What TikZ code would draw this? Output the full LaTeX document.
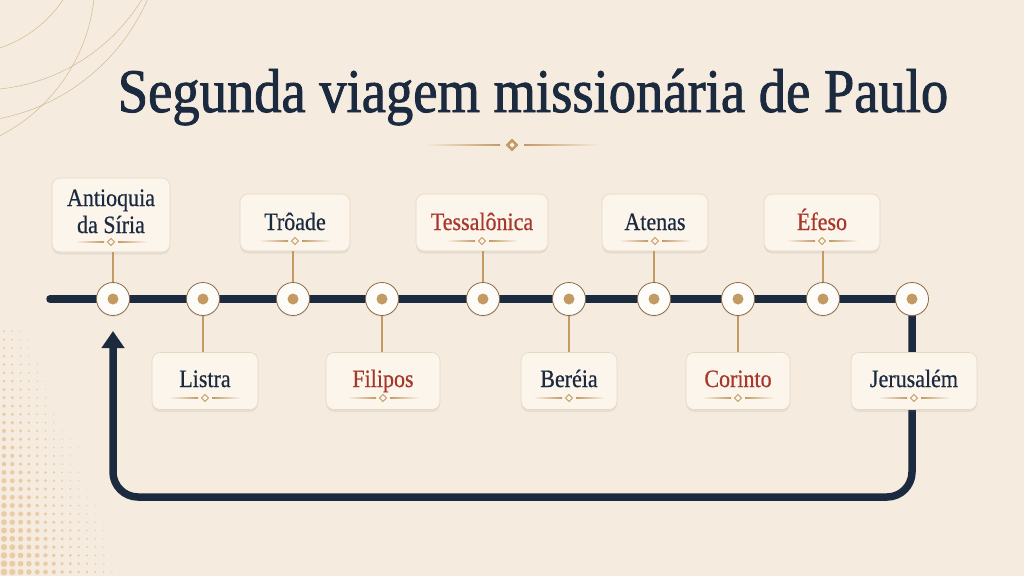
\documentclass[tikz,border=0pt]{standalone}
\usepackage{fontspec}
\setmainfont{Liberation Serif}[FakeStretch=0.88]
\newfontfamily\titlefont{Liberation Serif}[FakeStretch=0.88, FakeBold=1.4]
\newfontfamily\cardfont{Liberation Serif}[FakeStretch=0.88, FakeBold=0.6]
\usetikzlibrary{arrows.meta, shadows, calc}
\definecolor{paper}{HTML}{F5ECDF}
\definecolor{card}{HTML}{FBF5EB}
\definecolor{ink}{HTML}{1B2A3F}
\definecolor{rust}{HTML}{A8372B}
\definecolor{gold}{HTML}{C49A63}
\definecolor{rim}{HTML}{8C6C48}
\definecolor{peach}{HTML}{EACBA8}
\tikzset{
    placecard/.style={draw=gold!40, fill=card, line width=0.6pt, rounded corners=8pt,
        minimum height=57pt, inner sep=0pt,
        drop shadow={opacity=0.12, shadow xshift=0pt, shadow yshift=-2.5pt}},
    placename/.style={font=\cardfont\fontsize{25}{27}\selectfont, inner sep=0pt, align=center},
    stop/.style={circle, draw=rim, line width=0.8pt, fill=white!70!card, minimum size=33pt, inner sep=0pt,
        drop shadow={opacity=0.10, shadow xshift=0pt, shadow yshift=-1.5pt}},
    stem/.style={draw=gold, line width=1.3pt},
    route/.style={draw=ink, line width=7.5pt},
    ornament/.pic={
        \shade[left color=card, right color=gold] (-36,-0.6) rectangle (-7,0.6);
        \shade[left color=gold, right color=card] (7,-0.6) rectangle (36,0.6);
        \draw[gold, fill=card, line width=1pt] (0,-3.5) -- (3.5,0) -- (0,3.5) -- (-3.5,0) -- cycle;
    }
}

\begin{document}
\begin{tikzpicture}[x=1pt, y=-1pt]
    \fill[paper] (0,0) rectangle (1024,576);
    \useasboundingbox (0,0) rectangle (1024,576);

    % corner decoration
    \begin{scope}
        \clip (0,0) rectangle (1024,576);
        \draw[gold!70, line width=0.5pt] (-40,-70) circle (124.5);
        \draw[gold!70, line width=0.5pt] (-80,-20) circle (175);
        \draw[gold!70, line width=0.5pt] (-20,-100) circle (190);
        \draw[gold!70, line width=0.5pt] (-40,-82) circle (204.4);
        \foreach \i in {0,...,14}
            \foreach \j in {0,...,29} {
                \pgfmathsetmacro\r{max(0,3.4-0.21*\i-0.08*\j)}
                \fill[peach] (4+8.3*\i, 572-8.3*\j) circle[radius=\r pt];
            }
    \end{scope}

    % title
    \node[font=\titlefont\fontsize{62}{70}\selectfont, text=ink, anchor=base, inner sep=0pt] (title) at (533,112)
        {Segunda viagem missionária de Paulo};
    \shade[left color=paper, right color=gold] (425,144.3) rectangle (500,145.7);
    \shade[left color=gold, right color=paper] (524,144.3) rectangle (600,145.7);
    \draw[gold, fill=gold] (512,139) -- (518,145) -- (512,151) -- (506,145) -- cycle;
    \fill[card] (512,142.5) -- (514.5,145) -- (512,147.5) -- (509.5,145) -- cycle;

    % route
    \foreach \n/\x in {1/113, 2/203, 3/293, 4/382, 5/483, 6/569, 7/654, 8/738, 9/823, 10/912}
        \coordinate (p\n) at (\x,299);
    \coordinate (start) at (50,299);
    \coordinate (tip) at (113,331);
    \draw[route, line cap=round] (start) -- (p10);
    \draw[route, rounded corners=25pt, -{Triangle[length=17pt, width=22pt]}]
        (p10) -- (912,497) -- (113,497) -- (tip);

    % stations
    \foreach \n in {1,...,10} {
        \node[stop] (s\n) at (p\n) {};
        \fill[gold] (s\n) circle (5.5);
    }

    % cards above the line
    \node[placecard, minimum width=118pt, minimum height=74pt] (c1) at (111,215) {};
    \node[placename, text=ink, anchor=base] at (111,206) {Antioquia};
    \node[placename, text=ink, anchor=base] at (111,233) {da Síria};
    \pic at (111,242) {ornament};
    \draw[stem] (s1.north) -- (s1.north |- c1.south);
    \foreach \n/\x/\w/\txt/\col in {3/295/110/Trôade/ink, 5/482/132/Tessalônica/rust,
            7/655/106/Atenas/ink, 9/822/116/Éfeso/rust} {
        \node[placecard, minimum width=\w pt] (c\n) at (\x,222.5) {};
        \node[placename, text=\col, anchor=base] at (\x,230) {\txt};
        \pic at (\x,241) {ornament};
        \draw[stem] (s\n.north) -- (s\n.north |- c\n.south);
    }

    % cards below the line
    \foreach \n/\x/\w/\txt/\col in {2/205/106/Listra/ink, 4/383/114/Filipos/rust,
            6/569/96/Beréia/ink, 8/738/104/Corinto/rust, 10/914/126/Jerusalém/ink} {
        \node[placecard, minimum width=\w pt] (c\n) at (\x,381) {};
        \node[placename, text=\col, anchor=base] at (\x,387) {\txt};
        \pic at (\x,398) {ornament};
        \ifnum\n<10 \draw[stem] (s\n.south) -- (s\n.south |- c\n.north); \fi
    }
\end{tikzpicture}
\end{document}
